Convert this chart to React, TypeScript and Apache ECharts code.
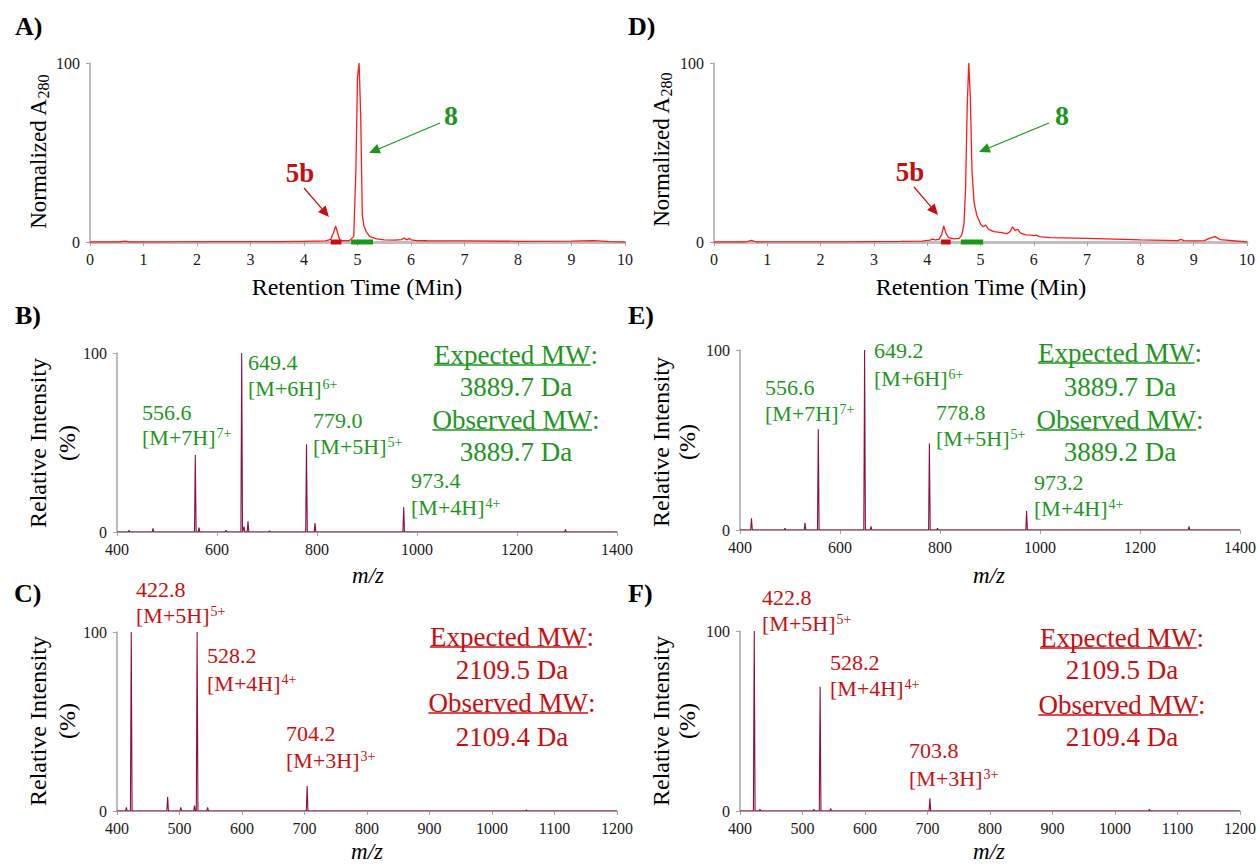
import React, { useEffect, useRef } from "react";
import * as echarts from "echarts";

const FONT = "Liberation Serif";
const GREEN = "#1E961E";
const RED = "#C80F0F";
const SPEC = "#8B0D45";
const TRACE = "#FF1A1A";
const AXIS = "#A6A6A6";

// ---- Chromatogram A (RP-HPLC, first reaction) ----
const timeA = [0, 0.55, 0.65, 0.75, 1.5, 2.5, 3.5, 4.0, 4.4, 4.5, 4.55, 4.59, 4.63, 4.67, 4.72, 4.85, 4.93, 4.97, 5.0, 5.03, 5.06, 5.09, 5.12, 5.16, 5.23, 5.36, 5.5, 5.7, 5.82, 5.87, 5.92, 5.97, 6.0, 6.1, 6.3, 7, 8, 9, 9.4, 9.5, 9.7, 10];
const absA = [0, 0, 0.5, 0, 0.1, 0.2, 0.2, 0.4, 0.6, 1.5, 5, 9, 5, 1, 0.7, 0.8, 3, 40, 92, 100, 70, 15, 9, 6, 3, 1.8, 1.2, 1, 1.3, 2.2, 1.2, 2.0, 1.2, 0.8, 0.7, 0.6, 0.4, 0.5, 0.8, 0.6, 0.2, 0];
const frac5bA = [4.5, 4.7];
const frac8A = [4.88, 5.29];

// ---- Chromatogram D ----
const timeD = [0, 0.6, 0.7, 0.8, 1.5, 2.5, 3.5, 3.9, 4.05, 4.1, 4.15, 4.22, 4.27, 4.31, 4.35, 4.4, 4.5, 4.6, 4.65, 4.69, 4.72, 4.75, 4.78, 4.81, 4.84, 4.88, 4.93, 5.0, 5.05, 5.1, 5.15, 5.25, 5.4, 5.5, 5.56, 5.6, 5.65, 5.7, 5.75, 5.85, 5.95, 6.0, 6.05, 6.1, 6.3, 7, 8, 8.7, 8.76, 8.82, 9.0, 9.2, 9.3, 9.4, 9.5, 10];
const absD = [0, 0, 0.9, 0, 0.1, 0.1, 0.3, 0.5, 1.0, 1.6, 1.2, 1.5, 4, 9, 5, 2.5, 1.8, 2.0, 4, 10, 30, 75, 100, 80, 40, 22, 15, 10, 8.5, 9.5, 7, 5.8, 5.2, 4.6, 6, 8.5, 6.5, 7, 5, 4, 3.8, 3.5, 3.8, 3.0, 2.4, 2.0, 1.2, 0.8, 1.5, 0.8, 0.6, 0.8, 2.2, 3.0, 1.3, 0];
const frac5bD = [4.26, 4.44];
const frac8D = [4.63, 5.05];

// ---- Mass spectra ----
const mzB = [424, 472, 556.6, 564, 618, 649.4, 654, 662, 705, 779.0, 796, 973.4, 1297];
const intB = [1, 2, 43, 2.5, 1, 100, 3, 6, 0.6, 49, 5, 14, 1.5];
const mzE = [423, 490, 530, 556.6, 649.2, 662, 778.8, 795, 973.2, 1298];
const intE = [6.5, 1, 4, 56, 100, 2, 48, 1, 10.5, 2];
const mzC = [415, 422.8, 481, 502, 524, 528.2, 545, 704.2, 1055];
const intC = [2, 100, 8, 2, 3, 100, 2, 14, 0.6];
const mzF = [422.8, 432, 518, 528.2, 545, 703.8, 1055];
const intF = [100, 1, 1, 69, 1.5, 7, 1];

// ---- Annotation texts ----
const labelsB = [
  { mz: "556.6", ion: "[M+7H]{sup|7+}" },
  { mz: "649.4", ion: "[M+6H]{sup|6+}" },
  { mz: "779.0", ion: "[M+5H]{sup|5+}" },
  { mz: "973.4", ion: "[M+4H]{sup|4+}" },
];
const labelsE = [
  { mz: "556.6", ion: "[M+7H]{sup|7+}" },
  { mz: "649.2", ion: "[M+6H]{sup|6+}" },
  { mz: "778.8", ion: "[M+5H]{sup|5+}" },
  { mz: "973.2", ion: "[M+4H]{sup|4+}" },
];
const labelsC = [
  { mz: "422.8", ion: "[M+5H]{sup|5+}" },
  { mz: "528.2", ion: "[M+4H]{sup|4+}" },
  { mz: "704.2", ion: "[M+3H]{sup|3+}" },
];
const labelsF = [
  { mz: "422.8", ion: "[M+5H]{sup|5+}" },
  { mz: "528.2", ion: "[M+4H]{sup|4+}" },
  { mz: "703.8", ion: "[M+3H]{sup|3+}" },
];
const mwB = ["3889.7 Da", "3889.7 Da"];
const mwE = ["3889.7 Da", "3889.2 Da"];
const mwC = ["2109.5 Da", "2109.4 Da"];
const mwF = ["2109.5 Da", "2109.4 Da"];

function spikes(mz: number[], inten: number[], min: number, max: number, hw: number) {
  const pts: number[][] = [[min, 0]];
  const order = mz.map((_, i) => i).sort((a, b) => mz[a] - mz[b]);
  for (const i of order) {
    pts.push([mz[i] - hw, 0], [mz[i], inten[i]], [mz[i] + hw, 0]);
  }
  pts.push([max, 0]);
  return pts;
}

function zip(x: number[], y: number[]) {
  return x.map((v, i) => [v, y[i]]);
}

let measureCtx: CanvasRenderingContext2D | null = null;
function measure(text: string, size: number) {
  if (!measureCtx) measureCtx = document.createElement("canvas").getContext("2d");
  measureCtx!.font = `${size}px ${FONT}`;
  return measureCtx!.measureText(text).width;
}

function txt(text: string, x: number, y: number, o: any = {}) {
  const { rotation, ...style } = o;
  return {
    type: "text",
    x,
    y,
    rotation: rotation || 0,
    silent: true,
    z: 100,
    style: {
      text,
      fontFamily: FONT,
      fontSize: 22,
      fill: "#000",
      align: "left",
      verticalAlign: "middle",
      ...style,
    },
  };
}

function arrow(x1: number, y1: number, x2: number, y2: number, color: string) {
  const dx = x2 - x1, dy = y2 - y1;
  const L = Math.hypot(dx, dy);
  const ux = dx / L, uy = dy / L;
  const hl = 11, hw = 5;
  const bx = x2 - ux * hl, by = y2 - uy * hl;
  return [
    { type: "line", silent: true, z: 100, shape: { x1, y1, x2: bx, y2: by }, style: { stroke: color, lineWidth: 1.2 } },
    {
      type: "polygon", silent: true, z: 100,
      shape: { points: [[x2, y2], [bx - uy * hw, by + ux * hw], [bx + uy * hw, by - ux * hw]] },
      style: { fill: color },
    },
  ];
}

function peakLabels(list: { mz: string; ion: string }[], pos: number[][], color: string) {
  const out: any[] = [];
  list.forEach((l, i) => {
    const [x, y1, y2] = pos[i];
    out.push(txt(l.mz, x, y1, { fill: color }));
    out.push(
      txt(l.ion, x, y2, {
        fill: color,
        rich: { sup: { fontSize: 14, fontFamily: FONT, fill: color, verticalAlign: "top", padding: [0, 0, 0, 1] } },
      })
    );
  });
  return out;
}

function mwBlock(cx: number, ys: number[], values: string[], color: string) {
  const size = 27;
  const out: any[] = [];
  const heads = ["Expected MW", "Observed MW"];
  [0, 1].forEach((k) => {
    const head = heads[k];
    const w1 = measure(head, size);
    const wc = measure(":", size);
    const x0 = cx - (w1 + wc) / 2;
    const yh = ys[k * 2];
    out.push(txt(head, x0, yh, { fill: color, fontSize: size }));
    out.push(txt(":", x0 + w1, yh, { fill: color, fontSize: size }));
    out.push({
      type: "line", silent: true, z: 100,
      shape: { x1: x0, y1: yh + 10, x2: x0 + w1, y2: yh + 10 },
      style: { stroke: color, lineWidth: 1.5 },
    });
    out.push(txt(values[k], cx, ys[k * 2 + 1], { fill: color, fontSize: size, align: "center" }));
  });
  return out;
}

export default function App() {
  const ref = useRef<HTMLDivElement>(null);

  useEffect(() => {
    if (!ref.current) return;
    const chart = echarts.init(ref.current, undefined, { renderer: "svg" });

    const grids = [
      { left: 90, top: 63, width: 535, height: 179 }, // A
      { left: 714, top: 63, width: 533, height: 179 }, // D
      { left: 117, top: 353, width: 500, height: 179 }, // B
      { left: 740, top: 350, width: 500, height: 180 }, // E
      { left: 117, top: 632, width: 500, height: 179 }, // C
      { left: 740, top: 631, width: 501, height: 180 }, // F
    ];
    const xRanges = [
      [0, 10, 1], [0, 10, 1],
      [400, 1400, 200], [400, 1400, 200],
      [400, 1200, 100], [400, 1200, 100],
    ];

    const xAxis = xRanges.map((r, i) => ({
      type: "value",
      gridIndex: i,
      min: r[0],
      max: r[1],
      interval: r[2],
      axisLine: { show: true, lineStyle: { color: i < 2 ? "#BFBFBF" : AXIS, width: i < 2 ? 3 : 1.5 } },
      axisTick: { show: true, length: 4, lineStyle: { color: AXIS } },
      axisLabel: {
        fontFamily: FONT, fontSize: 16, color: "#1a1a1a", margin: 9,
        formatter: (v: number) => String(v),
      },
      splitLine: { show: false },
    }));
    const yAxis = grids.map((_, i) => ({
      type: "value",
      gridIndex: i,
      min: 0,
      max: 100,
      interval: 100,
      axisLine: { show: true, lineStyle: { color: AXIS, width: 1.5 } },
      axisTick: { show: true, length: 4, lineStyle: { color: AXIS } },
      axisLabel: { fontFamily: FONT, fontSize: 16, color: "#1a1a1a", margin: 10 },
      splitLine: { show: false },
    }));

    const line = (idx: number, data: number[][], color: string, width: number, extra: any = {}) => ({
      type: "line",
      xAxisIndex: idx,
      yAxisIndex: idx,
      data,
      showSymbol: false,
      symbol: "none",
      silent: true,
      lineStyle: { color, width },
      ...extra,
    });

    const series = [
      line(0, zip(timeA, absA), TRACE, 1.3),
      line(0, [[frac5bA[0], 0], [frac5bA[1], 0]], RED, 5, { clip: false, z: 5 }),
      line(0, [[frac8A[0], 0], [frac8A[1], 0]], "#149A14", 5, { clip: false, z: 5 }),
      line(1, zip(timeD, absD), TRACE, 1.3),
      line(1, [[frac5bD[0], 0], [frac5bD[1], 0]], RED, 5, { clip: false, z: 5 }),
      line(1, [[frac8D[0], 0], [frac8D[1], 0]], "#149A14", 5, { clip: false, z: 5 }),
      line(2, spikes(mzB, intB, 400, 1400, 1.6), SPEC, 1.1),
      line(3, spikes(mzE, intE, 400, 1400, 1.6), SPEC, 1.1),
      line(4, spikes(mzC, intC, 400, 1200, 1.3), SPEC, 1.1),
      line(5, spikes(mzF, intF, 400, 1200, 1.3), SPEC, 1.1),
    ];

    const bold = { fontWeight: "bold", fontSize: 26 };
    const subRich = { sub: { fontSize: 16, fontFamily: FONT, verticalAlign: "bottom", padding: [10, 0, 0, 0] } };
    const title = 24;
    const graphic: any[] = [
      // panel letters
      txt("A)", 15, 26, bold),
      txt("D)", 628, 26, bold),
      txt("B)", 15, 315, bold),
      txt("E)", 628, 315, bold),
      txt("C)", 14, 593, bold),
      txt("F)", 628, 593, bold),
      // chromatogram axis titles
      txt("Retention Time (Min)", 357, 287, { align: "center", fontSize: title }),
      txt("Retention Time (Min)", 981, 287, { align: "center", fontSize: title }),
      txt("Normalized A{sub|280}", 38, 152, { align: "center", rotation: Math.PI / 2, fontSize: 23, rich: subRich }),
      txt("Normalized A{sub|280}", 661, 150, { align: "center", rotation: Math.PI / 2, fontSize: 23, rich: subRich }),
      // peak callouts
      txt("5b", 300, 173, { fill: RED, fontWeight: "bold", fontSize: 27, align: "center" }),
      txt("8", 451, 115, { fill: GREEN, fontWeight: "bold", fontSize: 28, align: "center" }),
      txt("5b", 910, 172, { fill: RED, fontWeight: "bold", fontSize: 27, align: "center" }),
      txt("8", 1062, 115, { fill: GREEN, fontWeight: "bold", fontSize: 28, align: "center" }),
      ...arrow(304, 188, 329, 217, RED),
      ...arrow(440, 123, 369, 153, GREEN),
      ...arrow(914, 187, 938, 215, RED),
      ...arrow(1049, 123, 979, 152, GREEN),
      // spectra axis titles
      ...[[38, 67, 443], [38, 67, 721], [661, 687, 442], [661, 687, 721]].flatMap(([x1, x2, y]) => [
        txt("Relative Intensity", x1, y, { align: "center", rotation: Math.PI / 2, fontSize: title }),
        txt("(%)", x2, y, { align: "center", rotation: Math.PI / 2, fontSize: title }),
      ]),
      ...[[368, 575], [989, 575], [367, 851], [989, 851]].map(([x, y]) =>
        txt("m/z", x, y, { align: "center", fontStyle: "italic", fontSize: 23 })
      ),
      // peak labels
      ...peakLabels(labelsB, [[142, 412, 437], [248, 362, 388], [313, 420, 446], [411, 480, 507]], GREEN),
      ...peakLabels(labelsE, [[765, 387, 413], [874, 350, 378], [936, 412, 438], [1034, 482, 508]], GREEN),
      ...peakLabels(labelsC, [[136, 589, 615], [207, 655, 683], [286, 733, 760]], RED),
      ...peakLabels(labelsF, [[762, 597, 623], [830, 662, 688], [909, 750, 778]], RED),
      // MW blocks
      ...mwBlock(516, [355, 387, 420, 452], mwB, GREEN),
      ...mwBlock(1120, [353, 387, 420, 452], mwE, GREEN),
      ...mwBlock(512, [637, 670, 703, 737], mwC, RED),
      ...mwBlock(1122, [638, 670, 705, 737], mwF, RED),
    ];

    chart.setOption({
      animation: false,
      backgroundColor: "#ffffff",
      grid: grids,
      xAxis,
      yAxis,
      series,
      graphic,
    });

    return () => chart.dispose();
  }, []);

  return (
    <div
      ref={ref}
      style={{ position: "fixed", left: 0, top: 0, width: 1259, height: 866, background: "#fff" }}
    />
  );
}
